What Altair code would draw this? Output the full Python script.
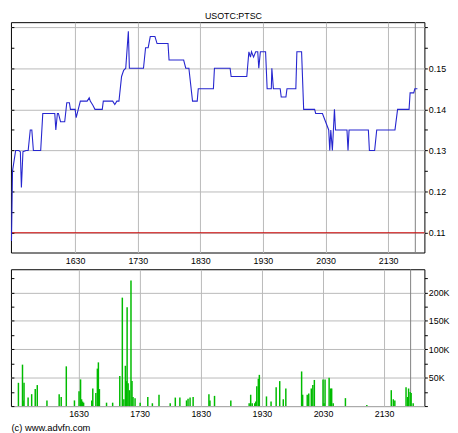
import altair as alt
import pandas as pd

TITLE = "USOTC:PTSC"
FOOTER = "(c) www.advfn.com"

# intraday time as minutes since midnight (990 = 16:30)
price_time = [929, 930, 933, 936, 937.5, 938.5, 940, 943, 945, 947,
              948.5, 950, 957, 959, 970.5, 971.5, 973, 974, 976, 980,
              982, 984.5, 985.5, 990, 991, 993, 995, 1001.5, 1003.5, 1004.5,
              1007, 1009, 1016, 1017, 1026, 1028, 1030, 1032, 1034.5, 1036.5,
              1038.5, 1041, 1042, 1055.5, 1057.5, 1060, 1062, 1066.5, 1068.5, 1079,
              1080, 1094, 1096, 1099, 1102.5, 1107, 1108, 1122.5, 1123.5, 1138.5,
              1139.5, 1154.5, 1156.5, 1158, 1159, 1161, 1163, 1165, 1166, 1167.5,
              1172.5, 1174, 1178, 1178.5, 1180, 1186.5, 1187.5, 1192, 1193, 1201.5,
              1202.5, 1207, 1209, 1219.5, 1220.5, 1227, 1230, 1233, 1234, 1235,
              1236.5, 1238.5, 1239.5, 1250.5, 1251.5, 1252.5, 1271, 1272, 1277, 1279,
              1296.5, 1299, 1310, 1311, 1314.5, 1315.5, 1318]
price_value = [0.108, 0.125, 0.13, 0.13, 0.1297, 0.121, 0.1297, 0.13, 0.13, 0.135,
               0.135, 0.13, 0.13, 0.139, 0.139, 0.135, 0.139, 0.139, 0.137, 0.137,
               0.1416, 0.1416, 0.14, 0.14, 0.138, 0.14, 0.142, 0.142, 0.1428, 0.142,
               0.141, 0.14, 0.14, 0.142, 0.142, 0.1412, 0.142, 0.142, 0.148, 0.1495,
               0.15, 0.159, 0.15, 0.15, 0.155, 0.155, 0.1577, 0.1577, 0.156, 0.156,
               0.152, 0.152, 0.15, 0.15, 0.142, 0.142, 0.145, 0.145, 0.15, 0.15,
               0.148, 0.148, 0.154, 0.1527, 0.154, 0.1527, 0.154, 0.154, 0.15, 0.154,
               0.154, 0.145, 0.145, 0.15, 0.145, 0.145, 0.143, 0.143, 0.145, 0.145,
               0.154, 0.154, 0.14, 0.14, 0.139, 0.139, 0.137, 0.135, 0.13, 0.135,
               0.13, 0.14, 0.135, 0.135, 0.13, 0.135, 0.135, 0.13, 0.13, 0.135,
               0.135, 0.14, 0.14, 0.144, 0.144, 0.145, 0.145]

vol_time = [931, 935, 935.5, 936.5, 940.5, 944, 947.5, 949.5, 959, 971,
            973, 978, 986, 990.5, 992, 993, 994, 995, 1003, 1004,
            1007, 1008.5, 1009.5, 1010.5, 1017.5, 1023.5, 1030.5, 1033, 1034.5, 1036,
            1037, 1037.7, 1038.7, 1040, 1041.5, 1042.5, 1043.5, 1045.5, 1050.5, 1058,
            1062.5, 1069, 1080, 1085, 1089.5, 1096, 1097.5, 1099.5, 1102.5, 1118,
            1119, 1123.5, 1139.5, 1157.5, 1159, 1160.5, 1163, 1164, 1165, 1166.5,
            1167.5, 1174.5, 1179, 1184, 1187.5, 1191, 1193.5, 1209, 1210, 1214.5,
            1216, 1218.5, 1220, 1221.5, 1230, 1231, 1232, 1236, 1237.5, 1238.5,
            1240, 1252, 1273, 1297, 1299, 1300.5, 1311.5, 1313, 1314, 1315.5,
            1316.5, 1318.5]
vol_thousands = [41, 73, 10, 41, 15, 21, 30, 37, 10, 21,
                 16, 70, 10, 26, 47, 12, 8, 6, 10, 31,
                 23, 66, 77, 30, 6, 6, 53, 191, 12, 71,
                 44, 174, 40, 28, 221, 44, 16, 14, 6, 16,
                 5, 20, 5, 15, 15, 10, 13, 15, 16, 21,
                 10, 18, 10, 5, 20, 5, 5, 8, 35, 48,
                 55, 17, 8, 33, 44, 12, 31, 61, 20, 20,
                 22, 31, 37, 46, 47, 5, 47, 50, 31, 31,
                 5, 14, 2, 28, 12, 10, 33, 16, 31, 25,
                 23, 5]

prev_close = [0.11]
session_end = [1316]
hour_ticks = [990, 1050, 1110, 1170, 1230, 1290]
price_ticks = [0.11, 0.115, 0.12, 0.125, 0.13, 0.135, 0.14, 0.145, 0.15, 0.155, 0.16]
vol_ticks = [0, 25000, 50000, 75000, 100000, 125000, 150000, 175000, 200000, 225000]

price_df = pd.DataFrame({"t": price_time, "price": price_value})
vol_df = pd.DataFrame({"t": vol_time, "volume": [v * 1000 for v in vol_thousands]})
prev_df = pd.DataFrame({"price": prev_close})
end_df = pd.DataFrame({"t": session_end})

FONT = "Liberation Sans"
W = 420
xscale = alt.Scale(domain=[928.5, 1324.7], nice=False, zero=False)
pscale = alt.Scale(domain=[0.1052, 0.1612], nice=False, zero=False)
vscale = alt.Scale(domain=[0, 241000], nice=False)
HHMM = "floor(datum.value/60)*100 + datum.value%60"


def x_axis(footer=False):
    kw = dict(values=hour_ticks, labelExpr=HHMM, grid=True, ticks=False, domain=False,
              labelPadding=4, labelFontSize=9, labelFont=FONT, labelColor="black",
              labelFlush=False, labelOverlap=False)
    if footer:
        kw.update(title=FOOTER, titleAnchor="start", titleAlign="left", titleFontSize=9.5,
                  titleFont=FONT, titleFontWeight="normal", titleColor="black", titlePadding=4)
    else:
        kw.update(title=None)
    return alt.Axis(**kw)


def right_axis(ticks, major_test, label_expr):
    return alt.Axis(orient="right", values=ticks, grid=True,
                    gridOpacity={"condition": {"test": major_test, "value": 1}, "value": 0},
                    labelExpr=label_expr, tickSize=3, tickColor="black", domain=False,
                    labelPadding=1, labelFontSize=9, labelFont=FONT, labelColor="black",
                    labelOverlap=False, labelFlush=False, title=None)


def left_axis(ticks):
    return alt.Axis(orient="left", values=ticks, grid=False, labels=False, tickSize=3,
                    tickColor="black", offset=-3, domain=False, title=None)


p_major = "round(datum.value*1000) % 10 == 0"
p_labels = "round(datum.value*1000) % 10 == 0 && datum.value < 0.155 ? format(datum.value, '.2f') : ''"
v_major = "round(datum.value) % 50000 == 0"
v_labels = "round(datum.value) % 50000 == 0 && datum.value > 0 ? (datum.value/1000) + 'K' : ''"

end_top = alt.Chart(end_df).mark_rule(color="#808080", strokeWidth=1).encode(
    x=alt.X("t:Q", scale=xscale, axis=x_axis()))
prev_rule = alt.Chart(prev_df).mark_rule(color="#cc0000", strokeWidth=1).encode(
    y=alt.Y("price:Q", scale=pscale, axis=right_axis(price_ticks, p_major, p_labels)))
price_line = alt.Chart(price_df).mark_line(color="#2626cf", strokeWidth=1.1).encode(
    x=alt.X("t:Q", scale=xscale, axis=x_axis()),
    y=alt.Y("price:Q", scale=pscale, axis=left_axis(price_ticks)))

top = alt.layer(end_top, prev_rule, price_line).resolve_axis(y="independent").properties(
    width=W, height=234,
    title=alt.TitleParams(TITLE, fontSize=9, font=FONT, fontWeight="normal", color="black",
                          anchor="middle", frame="group", dx=16, offset=1))

end_bot = alt.Chart(end_df).mark_rule(color="#808080", strokeWidth=1).encode(
    x=alt.X("t:Q", scale=xscale, axis=x_axis(True)))
vol_bars = alt.Chart(vol_df).mark_bar(color="#00bb00", size=1.5).encode(
    x=alt.X("t:Q", scale=xscale, axis=x_axis(True)),
    y=alt.Y("volume:Q", scale=vscale, axis=right_axis(vol_ticks, v_major, v_labels)))
vol_ticks_left = alt.Chart(vol_df).mark_bar(opacity=0, size=1).encode(
    x=alt.X("t:Q", scale=xscale, axis=x_axis(True)),
    y=alt.Y("volume:Q", scale=vscale, axis=left_axis(vol_ticks)))

bottom = alt.layer(end_bot, vol_bars, vol_ticks_left).resolve_axis(y="independent").properties(
    width=W, height=139)

chart = alt.vconcat(top, bottom, spacing=2).configure(
    background="white", padding=0
).configure_view(stroke="black", strokeWidth=1).configure_axis(
    gridColor="#b9b9b9", gridWidth=1)

chart.save("out.html", embed_options={"renderer": "svg", "actions": False})
